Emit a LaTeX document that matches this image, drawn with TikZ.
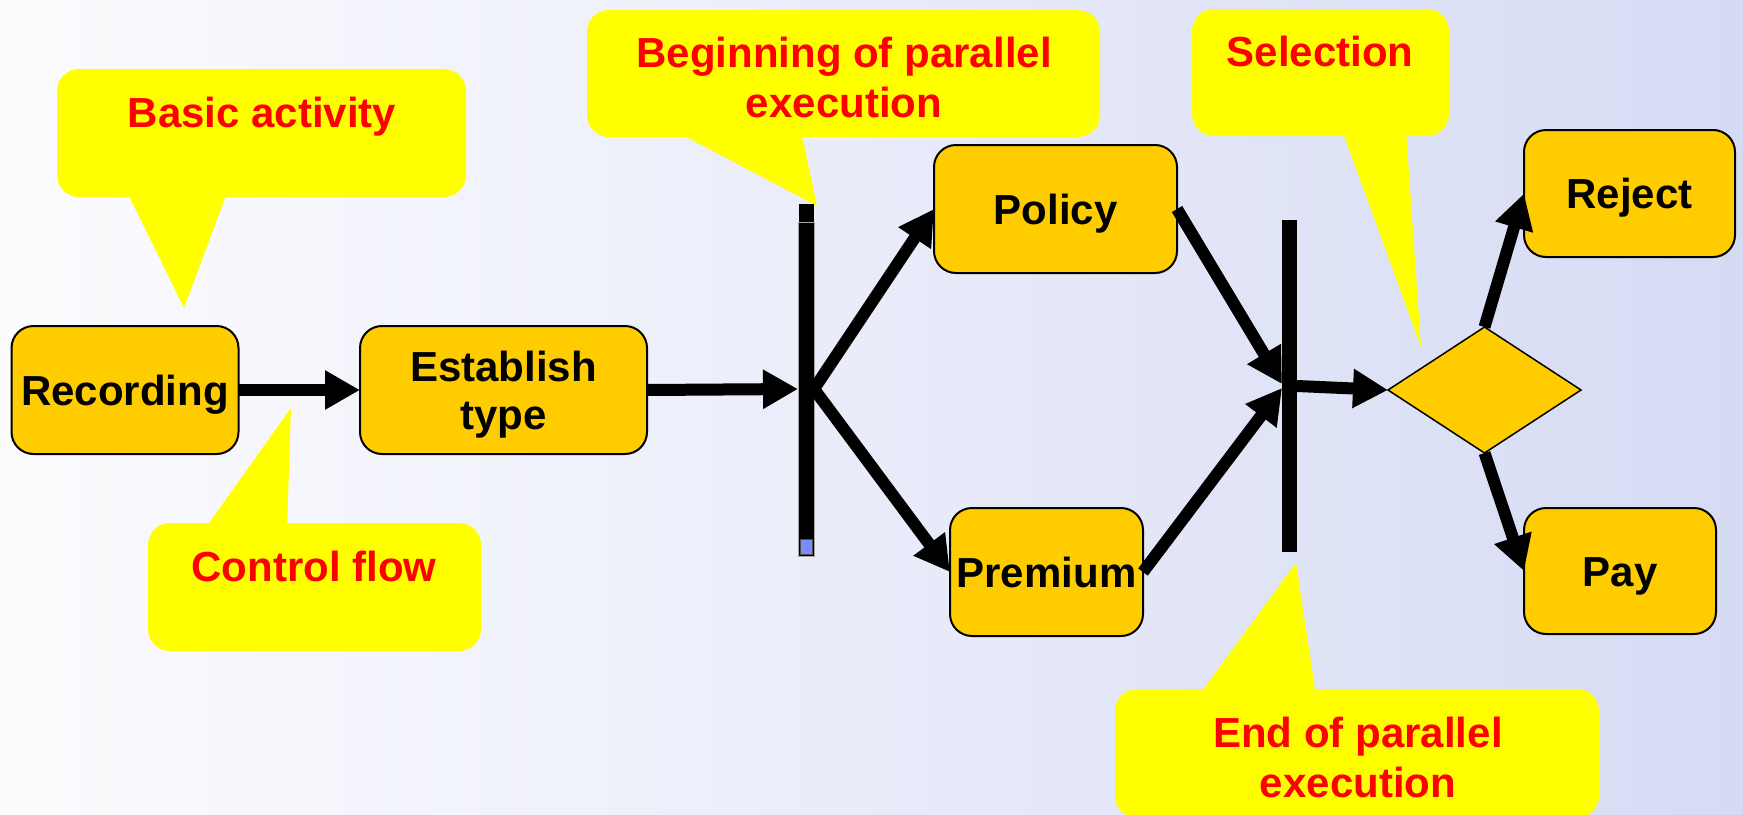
\documentclass[tikz,border=0pt]{standalone}
\usepackage{fontspec}
\setmainfont{Liberation Sans}
\usetikzlibrary{arrows.meta,shapes.geometric}
\definecolor{actfill}{RGB}{255,204,0}
\definecolor{notefill}{RGB}{255,255,0}
\definecolor{notetext}{RGB}{255,0,0}
\definecolor{bgleft}{RGB}{252,252,254}
\definecolor{bgright}{RGB}{214,219,244}
\definecolor{barblue}{RGB}{122,140,255}

\begin{document}
\begin{tikzpicture}[x=1pt,y=-1pt,
  every node/.style={inner sep=0pt, outer sep=0pt},
  activity/.style={draw=black, line width=2pt, fill=actfill, rounded corners=22pt,
    align=center, font=\fontsize{42}{48}\selectfont\bfseries,
    text height=30pt, text depth=0pt},
  note/.style={fill=notefill, rounded corners=22pt},
  notelabel/.style={text=notetext, anchor=base, align=center,
    font=\fontsize{42}{50}\selectfont\bfseries},
  flow/.style={line width=12pt, -{Triangle[length=35pt,width=37pt]}},
  syncbar/.style={fill=black}
]
% page and background
\useasboundingbox (0,0) rectangle (1743,814);
\shade[left color=bgleft, right color=bgright] (0,0) rectangle (1743,814);

% callout bodies
\node[note, minimum width=409pt, minimum height=128pt] (basic) at (261.5,133) {};
\node[note, minimum width=333pt, minimum height=128pt] (ctrl) at (314.5,587) {};
\node[note, minimum width=513pt, minimum height=127pt] (begin) at (843.5,73.5) {};
\node[note, minimum width=257pt, minimum height=127pt] (selnote) at (1320.5,72.5) {};
\node[note, minimum width=484pt, minimum height=129pt] (endnote) at (1357,753.5) {};

% callout pointers
\coordinate (basictip) at (184,308);
\coordinate (ctrltip) at (291,408);
\coordinate (begintip) at (817,206);
\coordinate (seltip) at (1421,347);
\coordinate (endtip) at (1296,563);
\fill[notefill] (126,190) -- (228,190) -- (basictip) -- cycle;
\fill[notefill] (204,530) -- (287,530) -- (ctrltip) -- cycle;
\fill[notefill] (673,130) -- (801,130) -- (begintip) -- cycle;
\fill[notefill] (1342,130) -- (1406,130) -- (seltip) -- cycle;
\fill[notefill] (1199,695) -- (1316,695) -- (endtip) -- cycle;

% callout texts (base anchor sits on the last line)
\node[notelabel] (basiclbl) at (262,127) {Basic activity};
\node[notelabel] (ctrllbl) at (314,581) {Control flow};
\node[notelabel] (beginlbl) at (844,117) {Beginning of parallel\\execution};
\node[notelabel] (sellbl) at (1320,66) {Selection};
\node[notelabel] (endlbl) at (1358,797) {End of parallel\\execution};

% activities
\node[activity, minimum width=227pt, minimum height=128pt] (rec) at (125,390) {Recording};
\node[activity, minimum width=287pt, minimum height=128pt, text height=78pt] (est) at (503.5,390) {Establish\\type};
\node[activity, minimum width=243pt, minimum height=128pt] (policy) at (1055.5,209) {Policy};
\node[activity, minimum width=193pt, minimum height=128pt] (premium) at (1046.5,572) {Premium};
\node[activity, minimum width=211pt, minimum height=127pt] (reject) at (1629.5,193.5) {Reject};
\node[activity, minimum width=192pt, minimum height=126pt] (pay) at (1620,571) {Pay};

% fork bar
\node[syncbar, draw=gray!70, line width=1pt, minimum width=16pt, minimum height=334pt] (fork) at (806,389) {};
\node[syncbar, minimum width=15pt, minimum height=18pt] (forktop) at (806.5,213) {};
\node[fill=barblue, draw=gray!60!black, line width=0.8pt, minimum width=12pt, minimum height=15pt] (forkend) at (806,547) {};

% join bar
\node[syncbar, minimum width=15pt, minimum height=332pt] (join) at (1289.5,386) {};

% decision
\node[diamond, draw=black, line width=1.5pt, fill=actfill, minimum width=193pt, minimum height=126pt] (choice) at (1484.5,390) {};

% control flow
\draw[flow] (rec) -- (est);
\draw[flow] (est.east) -- (fork.west);
\draw[flow] (fork.east) -- (policy.west);
\draw[flow] (fork.east) -- (premium.west);
\draw[flow] (policy.east) -- ([yshift=2pt]join.west);
\draw[flow] (premium.east) -- ([yshift=-2pt]join.west);
\draw[flow] (join.east) -- (choice.west);
\draw[flow] (choice.north) -- (reject.west);
\draw[flow] (choice.south) -- (pay.west);
\end{tikzpicture}
\end{document}
